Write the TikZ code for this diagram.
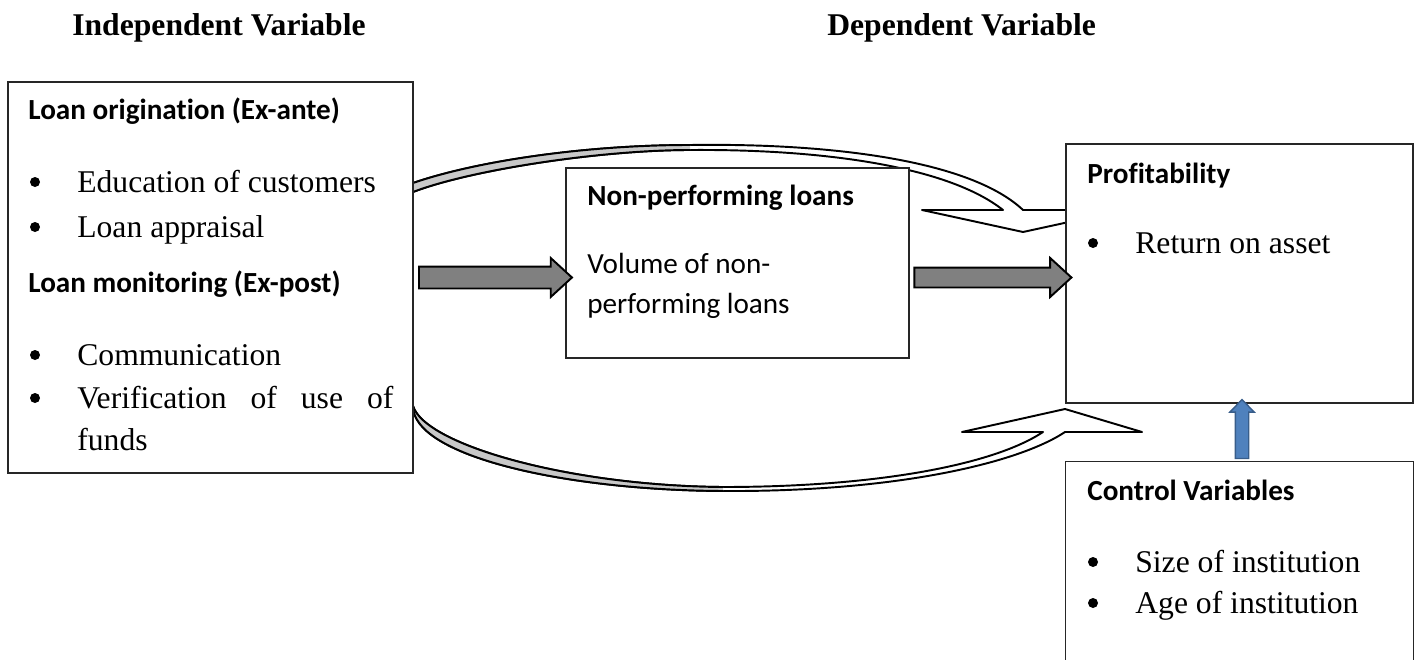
\documentclass[tikz,border=0pt]{standalone}
\usepackage{fontspec}
\setmainfont{Liberation Serif}
\newfontfamily\calibrifont[Ligatures=NoCommon]{Carlito}
\usetikzlibrary{shapes.arrows}

\definecolor{ribbongray}{RGB}{200,200,200}
\definecolor{arrowgray}{RGB}{128,128,128}
\definecolor{ctrlblue}{RGB}{79,129,189}
\definecolor{ctrlblueline}{RGB}{56,93,138}

\tikzset{
  box/.style={rectangle,draw=black!85,line width=0.6pt,fill=white,inner sep=0pt},
  boxtitle/.style={font=\calibrifont\bfseries\fontsize{16.6}{20}\selectfont,anchor=base west,inner sep=0pt},
  plaintext/.style={font=\calibrifont\fontsize{16.6}{20}\selectfont,anchor=base west,inner sep=0pt},
  itemtext/.style={font=\fontsize{18}{22}\selectfont,anchor=base west,inner sep=0pt},
  bulletmark/.style={circle,fill=black,inner sep=0pt,minimum size=0.2cm,yshift=0.2cm},
  vartitle/.style={font=\bfseries\fontsize{18}{22}\selectfont,anchor=base west,inner sep=0pt},
  ribbon/.style={draw=black,line width=1.1pt,fill=white,line join=round},
  ribbonline/.style={draw=black,line width=1.1pt},
  blockarrow/.style={single arrow,draw=black,line width=1.1pt,fill=arrowgray,
    inner xsep=0pt,inner ysep=#1,single arrow tip angle=85},
  uparrow/.style={single arrow,draw=ctrlblueline,line width=0.8pt,fill=ctrlblue,
    inner xsep=0pt,inner ysep=0.12cm,single arrow head extend=0.11cm,
    single arrow tip angle=88,rotate=90}
}

\begin{document}
\begin{tikzpicture}
\useasboundingbox (0,0) rectangle (28.32,13.18);

% curved arrow over the top
\draw[ribbon] (8.26,9.52) .. controls (9.6,9.98) and (11.8,10.28) .. (13.8,10.28)
  .. controls (16.6,10.32) and (19.4,9.98) .. (20.46,8.98)
  -- (22.48,8.98) -- (20.46,8.54) -- (18.44,8.98) -- (20.06,8.98)
  .. controls (19.0,9.82) and (16.6,10.20) .. (13.8,10.18)
  .. controls (12.0,10.18) and (9.4,9.78) .. (8.26,9.34) -- cycle;
\fill[ribbongray] (8.26,9.52) .. controls (9.6,9.98) and (11.8,10.28) .. (13.8,10.28)
  -- (13.8,10.18) .. controls (12.0,10.18) and (9.4,9.78) .. (8.26,9.34) -- cycle;
\draw[ribbonline] (8.26,9.52) .. controls (9.6,9.98) and (11.8,10.28) .. (13.8,10.28);
\draw[ribbonline] (13.8,10.18) .. controls (12.0,10.18) and (9.4,9.78) .. (8.26,9.34);

% curved arrow underneath
\draw[ribbon] (8.26,5.06) .. controls (8.26,4.08) and (11.2,3.38) .. (14.46,3.36)
  .. controls (18.0,3.34) and (20.4,3.94) .. (21.3,4.54)
  -- (22.84,4.54) -- (21.3,5.0) -- (19.24,4.54) -- (20.86,4.54)
  .. controls (19.9,3.90) and (17.6,3.44) .. (14.46,3.44)
  .. controls (11.4,3.46) and (8.5,4.28) .. (8.26,5.06) -- cycle;
\fill[ribbongray] (8.26,5.06) .. controls (8.26,4.08) and (11.2,3.38) .. (14.46,3.36)
  -- (14.46,3.44) .. controls (11.4,3.46) and (8.5,4.28) .. (8.26,5.06) -- cycle;
\draw[ribbonline] (8.26,5.06) .. controls (8.26,4.08) and (11.2,3.38) .. (14.46,3.36);
\draw[ribbonline] (14.46,3.44) .. controls (11.4,3.46) and (8.5,4.28) .. (8.26,5.06);

% boxes
\node[box,minimum width=8.1cm,minimum height=7.82cm] (indep) at (4.21,7.63) {};
\node[box,minimum width=6.86cm,minimum height=3.8cm] (npl) at (14.75,7.92) {};
\node[box,minimum width=6.94cm,minimum height=5.18cm] (prof) at (24.79,7.71) {};
\node[box,draw=none,minimum width=6.94cm,minimum height=3.94cm] (ctrl) at (24.79,1.97) {};
\draw[black!85,line width=0.6pt] (ctrl.south west) |- (ctrl.north east) -- (ctrl.south east);

% arrows between the boxes
\path (indep.east) -- (indep.east -| npl.west)
  node[midway,blockarrow=0.2cm,single arrow head extend=0.17cm,minimum height=3.06cm] (a1) {};
\path (npl.east |- indep.east) -- (prof.west |- indep.east)
  node[midway,blockarrow=0.18cm,single arrow head extend=0.19cm,minimum height=3.14cm] (a2) {};
\path (ctrl.north) -- (prof.south)
  node[midway,xshift=0.05cm,uparrow,minimum height=1.18cm] (a3) {};

% headings
\node[vartitle] (tindep) at (1.44,12.46) {Independent Variable};
\node[vartitle] (tdep) at (16.54,12.46) {Dependent Variable};

% independent variable
\node[boxtitle] (orig) at (0.56,10.78) {Loan origination (Ex-ante)};
\node[bulletmark] (b1) at (0.70,9.34) {};
\node[itemtext] (i1) at (1.54,9.34) {Education of customers};
\node[bulletmark] (b2) at (0.70,8.44) {};
\node[itemtext] (i2) at (1.54,8.44) {Loan appraisal};
\node[boxtitle] (moni) at (0.56,7.34) {Loan monitoring (Ex-post)};
\node[bulletmark] (b3) at (0.70,5.88) {};
\node[itemtext] (i3) at (1.54,5.88) {Communication};
\node[bulletmark] (b4) at (0.70,5.02) {};
\node[itemtext] (i4) at (1.54,5.02) {\makebox[6.32cm][s]{Verification of use of}};
\node[itemtext] (i5) at (1.54,4.18) {funds};

% mediating variable
\node[boxtitle] (npltitle) at (11.74,9.08) {Non-performing loans};
\node[plaintext] (vol1) at (11.74,7.72) {Volume of non-};
\node[plaintext] (vol2) at (11.74,6.92) {performing loans};

% dependent variable
\node[boxtitle] (proftitle) at (21.74,9.52) {Profitability};
\node[bulletmark] (b5) at (21.86,8.12) {};
\node[itemtext] (i6) at (22.70,8.12) {Return on asset};

% control variables
\node[boxtitle] (ctrltitle) at (21.74,3.18) {Control Variables};
\node[bulletmark] (b6) at (21.86,1.74) {};
\node[itemtext] (i7) at (22.70,1.74) {Size of institution};
\node[bulletmark] (b7) at (21.86,0.92) {};
\node[itemtext] (i8) at (22.70,0.92) {Age of institution};

\end{tikzpicture}
\end{document}
